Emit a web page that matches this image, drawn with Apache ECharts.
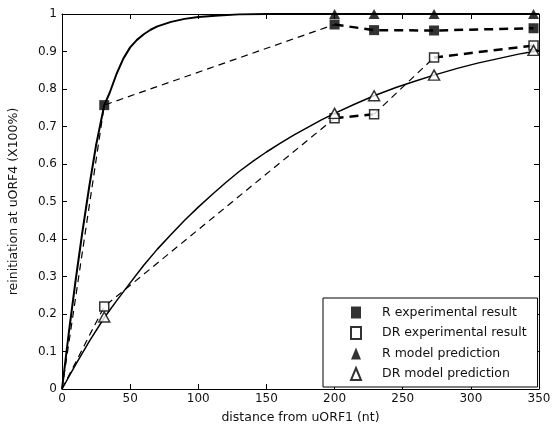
<!DOCTYPE html>
<html><head><meta charset="utf-8">
<script src="https://cdn.jsdelivr.net/npm/echarts@6/dist/echarts.min.js"></script>
<style>html,body{margin:0;padding:0;background:#fff}#c{width:552px;height:430px}</style>
</head><body><div id="c"></div>
<script>
// Experimental points (x in nt)
const xExp = [0, 31, 200, 229, 273, 346];
const rExp = [0, 0.757, 0.972, 0.957, 0.956, 0.962];
const drExp = [0, 0.22, 0.722, 0.733, 0.884, 0.916];
// Model prediction points
const xRModel = [200, 229, 273, 346];
const rModel = [1, 1, 1, 1];
const xDRModel = [31, 200, 229, 273, 346];
const drModel = [0.192, 0.735, 0.782, 0.837, 0.903];
// Model curves
const xRCurve = [0, 5, 10, 15, 20, 25, 31, 35, 40, 45, 50, 55, 60, 65, 70, 80, 90, 100, 115, 130, 150, 200, 250, 300, 350];
const yRCurve = [0, 0.15, 0.29, 0.42, 0.54, 0.65, 0.757, 0.79, 0.84, 0.881, 0.911, 0.931, 0.946, 0.958, 0.967, 0.979, 0.987, 0.992, 0.996, 0.999, 1, 1, 1, 1, 1];
const xDRCurve = [0, 10, 20, 31, 40, 50, 60, 70, 80, 90, 100, 110, 120, 130, 140, 150, 160, 170, 180, 190, 200, 215, 229, 245, 260, 273, 290, 305, 320, 335, 346, 350];
const yDRCurve = [0, 0.065, 0.127, 0.19, 0.235, 0.283, 0.33, 0.373, 0.412, 0.45, 0.485, 0.518, 0.55, 0.58, 0.607, 0.632, 0.655, 0.677, 0.697, 0.717, 0.735, 0.76, 0.782, 0.804, 0.822, 0.837, 0.855, 0.869, 0.881, 0.893, 0.9, 0.903];
const xTicks = [0, 50, 100, 150, 200, 250, 300, 350];
const yTicks = [0, 0.1, 0.2, 0.3, 0.4, 0.5, 0.6, 0.7, 0.8, 0.9, 1];
const legendNames = ['R experimental result', 'DR experimental result', 'R model prediction', 'DR model prediction'];

const zip = (xs, ys) => xs.map((x, i) => [x, ys[i]]);
// Segment helper: thin vs. bold dashed pieces of the experimental lines
const seg = (xs, ys, idx) => xs.map((x, i) => [x, idx.includes(i) ? ys[i] : null]);

const font = '"DejaVu Sans", "Liberation Sans", Arial, sans-serif';
const txt = '#111';
const axisCommon = {
  axisLine: {show: true, onZero: false, lineStyle: {color: '#000', width: 1}},
  splitLine: {show: false},
  axisTick: {show: true, inside: true, length: 5, lineStyle: {color: '#000'}},
};

const chart = echarts.init(document.getElementById('c'), null, {renderer: 'canvas'});
chart.setOption({
  animation: false,
  backgroundColor: '#fff',
  grid: {left: 62, right: 13, top: 14, bottom: 41, containLabel: false, outerBoundsMode: 'none'},
  xAxis: [
    Object.assign({type: 'value', min: xTicks[0], max: xTicks[xTicks.length - 1], interval: 50,
      name: 'distance from uORF1 (nt)', nameLocation: 'middle', nameGap: 22,
      nameTextStyle: {fontFamily: font, fontSize: 12.5, color: txt},
      axisLabel: {fontFamily: font, fontSize: 12, color: txt, margin: 4}}, axisCommon),
    Object.assign({type: 'value', position: 'top', min: xTicks[0], max: xTicks[xTicks.length - 1], interval: 50,
      axisLabel: {show: false}}, axisCommon)
  ],
  yAxis: [
    Object.assign({type: 'value', min: yTicks[0], max: yTicks[yTicks.length - 1], interval: 0.1,
      name: 'reinitiation at uORF4 (X100%)', nameLocation: 'middle', nameGap: 42,
      nameTextStyle: {fontFamily: font, fontSize: 12.5, color: txt},
      axisLabel: {fontFamily: font, fontSize: 12, color: txt, margin: 5,
        formatter: v => String(Math.round(v * 10) / 10)}}, axisCommon),
    Object.assign({type: 'value', position: 'right', min: yTicks[0], max: yTicks[yTicks.length - 1], interval: 0.1,
      axisLabel: {show: false}}, axisCommon)
  ],
  legend: {
    orient: 'vertical', left: 323, top: 298,
    data: legendNames,
    backgroundColor: '#fff', borderColor: '#000', borderWidth: 1,
    padding: [8, 11, 6, 27],
    itemGap: 7, itemWidth: 10, itemHeight: 12,
    textStyle: {fontFamily: font, fontSize: 12.5, color: txt, padding: [0, 0, 0, 16]},
    selectedMode: false
  },
  series: [
    // model curves
    {type: 'line', data: zip(xRCurve, yRCurve), showSymbol: false, symbol: 'none', clip: true,
      lineStyle: {color: '#000', width: 2}, z: 2, silent: true},
    {type: 'line', data: zip(xDRCurve, yDRCurve), showSymbol: false, symbol: 'none', clip: true,
      lineStyle: {color: '#000', width: 1.5}, z: 2, silent: true},
    // R experimental dashed: thin part, bold part
    {type: 'line', data: seg(xExp, rExp, [0, 1, 2]), symbol: 'none', connectNulls: false,
      lineStyle: {color: '#000', width: 1.2, type: [7, 5]}, z: 3},
    {type: 'line', data: seg(xExp, rExp, [2, 3, 4, 5]), symbol: 'none', connectNulls: false,
      lineStyle: {color: '#000', width: 2.5, type: [9, 6]}, z: 3},
    // DR experimental dashed: thin parts, bold parts
    {type: 'line', data: seg(xExp, drExp, [0, 1, 2]), symbol: 'none', connectNulls: false,
      lineStyle: {color: '#000', width: 1.2, type: [7, 5]}, z: 3},
    {type: 'line', data: seg(xExp, drExp, [3, 4]), symbol: 'none', connectNulls: false,
      lineStyle: {color: '#000', width: 1.2, type: [7, 5]}, z: 3},
    {type: 'line', data: seg(xExp, drExp, [2, 3]), symbol: 'none', connectNulls: false,
      lineStyle: {color: '#000', width: 2.5, type: [9, 6]}, z: 3},
    {type: 'line', data: seg(xExp, drExp, [4, 5]), symbol: 'none', connectNulls: false,
      lineStyle: {color: '#000', width: 2.5, type: [9, 6]}, z: 3},
    // markers
    {name: legendNames[0], type: 'scatter', data: zip(xExp.slice(1), rExp.slice(1)), symbol: 'rect', symbolSize: 10,
      itemStyle: {color: '#000', borderColor: '#000', borderWidth: 0}, z: 5, clip: false},
    {name: legendNames[1], type: 'scatter', data: zip(xExp.slice(1), drExp.slice(1)), symbol: 'rect', symbolSize: 9,
      itemStyle: {color: '#fff', borderColor: '#000', borderWidth: 1.5}, z: 5, clip: false},
    {name: legendNames[2], type: 'scatter', data: zip(xRModel, rModel), symbol: 'triangle', symbolSize: [11, 10],
      itemStyle: {color: '#000', borderColor: '#000', borderWidth: 0}, z: 6, clip: false},
    {name: legendNames[3], type: 'scatter', data: zip(xDRModel, drModel), symbol: 'triangle', symbolSize: [11, 10],
      itemStyle: {color: '#fff', borderColor: '#000', borderWidth: 1.5}, z: 6, clip: false}
  ]
});
</script></body></html>
